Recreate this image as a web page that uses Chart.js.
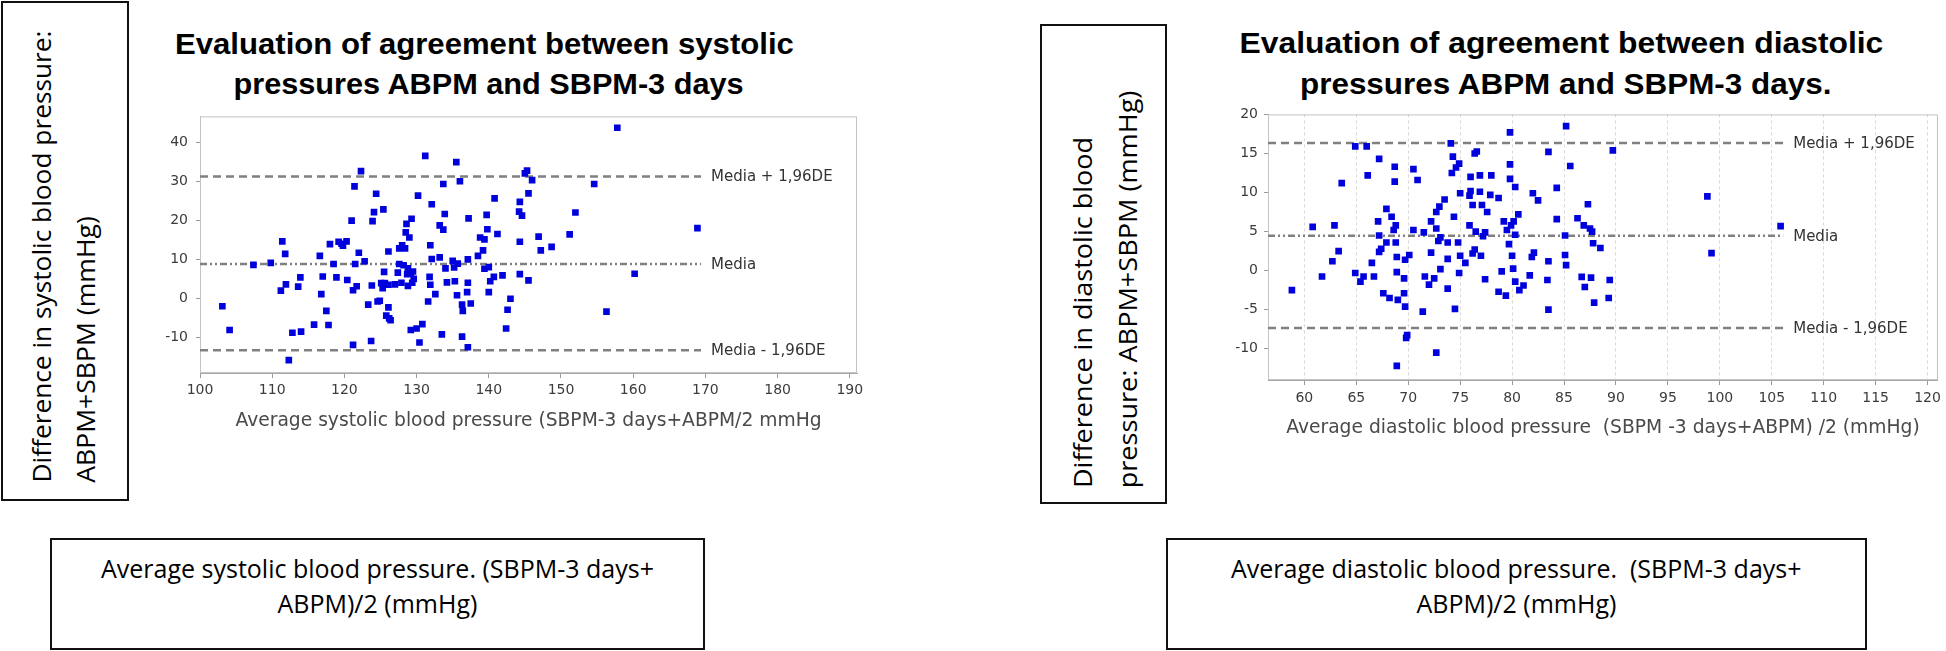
<!DOCTYPE html>
<html><head><meta charset="utf-8">
<script src="https://cdn.jsdelivr.net/npm/chart.js@4.4.1/dist/chart.umd.min.js"></script>
<style>
html,body{margin:0;padding:0;background:#fff;}
body{width:1946px;height:651px;position:relative;overflow:hidden;}
.box{position:absolute;box-sizing:border-box;border:2px solid #111;background:#fff;}
.t{position:absolute;white-space:pre;transform-origin:50% 50%;line-height:1;color:#000;}
.vt{font-family:"Open Sans",sans-serif;font-size:25px;}
.ttl{font-family:"Liberation Sans",Arial,sans-serif;font-weight:bold;font-size:30px;}
.bt{font-family:"Open Sans",sans-serif;font-size:25px;}
canvas{position:absolute;}
</style></head><body>
<div class="box" style="left:1px;top:1px;width:128px;height:500px"></div>
<div class="box" style="left:1040px;top:24px;width:127px;height:480px"></div>
<div class="box" style="left:50px;top:538px;width:655px;height:112px"></div>
<div class="box" style="left:1166px;top:538px;width:701px;height:112px"></div>
<canvas id="sysChart" width="770" height="345" style="left:130px;top:100px"></canvas>
<canvas id="diaChart" width="756" height="345" style="left:1190px;top:100px"></canvas>
<div class="t ttl" id="tl1">Evaluation of agreement between systolic</div>
<div class="t ttl" id="tl2">pressures ABPM and SBPM-3 days</div>
<div class="t ttl" id="tr1">Evaluation of agreement between diastolic</div>
<div class="t ttl" id="tr2">pressures ABPM and SBPM-3 days.</div>
<div class="t vt" id="vl1">Difference in systolic blood pressure:</div>
<div class="t vt" id="vl2">ABPM+SBPM (mmHg)</div>
<div class="t vt" id="vr1">Difference in diastolic blood</div>
<div class="t vt" id="vr2">pressure: ABPM+SBPM (mmHg)</div>
<div class="t bt" id="bl1">Average systolic blood pressure. (SBPM-3 days+</div>
<div class="t bt" id="bl2">ABPM)/2 (mmHg)</div>
<div class="t bt" id="br1">Average diastolic blood pressure.  (SBPM-3 days+</div>
<div class="t bt" id="br2">ABPM)/2 (mmHg)</div>
<script>
// ---------- DATA ----------
const sysMean = [103.1,104.1,107.4,109.8,111.4,111.8,111.2,111.9,112.3,112.8,113.6,113.9,114.0,115.8,116.6,116.8,117.0,117.5,117.8,118.0,
118.5,118.9,119.2,119.6,119.8,120.3,120.4,121.0,121.2,121.2,121.4,121.5,121.7,122.0,122.3,122.8,123.3,123.7,123.8,123.9,
124.1,124.4,124.6,124.9,125.1,125.3,125.4,125.5,125.6,125.8,126.1,126.1,126.2,126.4,126.1,127.0,127.4,127.6,127.6,128.0,
127.9,128.2,128.4,128.5,128.6,128.7,128.8,128.8,129.0,129.2,129.3,129.4,129.6,129.5,129.2,130.0,130.2,130.4,130.8,131.2,
131.6,131.9,131.8,131.9,132.1,132.1,132.6,133.2,133.5,133.2,133.7,133.7,133.9,134.0,134.2,135.0,135.2,135.5,135.3,135.6,
135.7,136.0,136.3,136.3,136.4,137.1,137.1,137.1,137.0,137.2,137.5,138.5,138.8,139.2,139.4,139.4,139.7,139.8,140.0,140.0,
140.2,140.7,140.8,141.2,141.9,142.4,142.6,143.0,144.3,144.2,144.6,144.3,144.3,145.0,145.3,145.5,145.5,146.0,146.9,147.2,
148.7,151.2,152.0,154.6,156.3,157.8,160.2,168.9];
const sysDiff = [-1.9,-8.0,8.7,9.2,14.7,11.5,2.1,3.7,-15.7,-8.7,3.1,5.5,-8.4,-6.6,11.0,1.2,5.7,-3.1,-6.7,14.0,
8.9,5.5,14.6,14.1,13.6,14.7,4.8,20.0,-11.8,2.2,28.8,8.9,3.2,11.8,32.7,9.6,-1.5,-10.8,3.4,19.9,
22.2,26.9,-0.7,-0.5,4.0,2.7,22.9,6.9,4.0,-4.3,-2.2,12.1,-5.0,-5.5,3.6,3.7,6.7,12.9,8.9,13.7,
4.1,8.6,12.9,17.0,19.2,6.3,3.3,7.8,15.7,6.5,20.5,4.1,5.1,7.0,-8.0,-7.6,26.4,-11.2,-6.5,36.6,
-0.7,13.7,5.6,3.6,10.2,24.2,1.2,18.8,-9.1,10.6,29.4,17.7,21.7,7.8,4.2,9.7,8.0,35.0,4.5,0.9,
9.0,30.1,-9.7,-1.5,-3.1,10.1,-12.4,4.1,1.7,20.6,-1.2,11.0,15.7,12.4,15.2,7.7,21.5,17.8,8.1,1.7,
4.5,5.6,25.7,16.6,6.0,-7.6,-2.8,0.0,24.8,22.3,21.3,14.6,6.3,32.1,32.8,27.0,4.7,30.4,15.9,12.4,
13.3,16.5,22.1,29.4,-3.3,43.8,6.4,18.1];
const sysLimits = [31.3, 8.9, -13.2];        // Media + 1,96DE, Media, Media - 1,96DE
const sysLimitEnd = 169.4;
const sysXTicks = [100,110,120,130,140,150,160,170,180,190];
const sysYTicks = [-10,0,10,20,30,40];

const diaMean = [58.8,60.8,61.7,62.7,62.9,63.3,63.6,64.9,64.9,65.4,65.7,66.0,66.1,66.5,66.7,67.1,67.2,67.2,67.2,67.4,
67.6,67.9,67.9,68.2,68.4,68.7,68.7,68.6,68.8,68.8,68.9,68.9,68.9,69.0,69.6,69.6,69.7,69.7,69.8,69.9,
70.1,70.5,70.5,70.9,71.4,71.5,71.6,72.0,72.2,72.2,72.5,72.7,72.7,72.7,72.9,73.0,73.1,73.1,73.5,73.8,
73.8,73.8,74.1,74.2,74.3,74.4,74.5,74.6,74.8,74.9,74.9,75.0,75.0,75.5,75.9,75.9,76.0,76.0,76.2,76.2,
76.4,76.4,76.5,76.6,76.9,76.9,77.0,77.1,77.2,77.4,77.4,77.6,77.9,78.0,78.7,78.7,79.0,79.2,79.4,79.5,
79.7,79.8,79.8,79.8,79.9,80.0,80.1,80.15,80.3,80.3,80.3,80.6,80.7,81.1,81.7,81.9,82.0,82.1,82.5,83.4,
83.5,83.5,83.5,84.3,84.3,85.2,85.1,85.1,85.2,85.6,86.3,87.3,86.9,87.5,87.7,87.8,88.5,86.7,87.6,87.0,
87.9,89.4,89.3,89.7,98.8,99.2,105.85];
const diaDiff = [-2.5,5.6,-0.75,1.2,5.8,2.5,11.2,-0.3,15.9,-1.4,-0.75,15.9,12.2,1.0,-0.75,6.3,14.3,4.5,2.4,2.8,
-2.9,7.9,3.6,-3.5,6.9,13.3,11.4,5.2,5.8,3.6,1.75,-0.2,-12.2,-3.75,-1.0,-2.9,-4.6,1.4,-8.6,-8.25,
2.0,13.0,5.2,11.6,-5.25,4.9,-0.75,-1.8,2.3,6.3,-1.0,5.4,-10.5,7.5,3.8,8.2,0.2,4.25,9.1,3.6,
-2.3,1.5,16.3,12.5,14.6,6.9,-4.9,13.2,3.6,13.7,-0.3,9.9,1.9,1.0,9.6,5.8,12.0,10.2,8.4,2.2,
2.7,15.0,5.0,15.25,12.2,10.1,1.9,8.4,4.4,4.9,-1.1,7.5,9.7,12.2,9.3,-2.7,-0.1,6.3,-3.2,5.2,
3.4,13.6,11.75,17.7,5.8,1.9,0.25,6.3,4.6,-1.4,10.7,7.2,-2.5,-1.9,-0.6,1.75,9.9,2.3,9.0,-1.2,
1.2,15.2,-5.0,10.6,6.6,18.5,4.5,2.0,0.7,13.4,6.7,8.5,5.8,5.4,5.0,3.5,2.9,-0.8,-0.9,-2.1,
-4.1,-1.2,-3.5,15.4,9.5,2.25,5.7];
const diaLimits = [16.35, 4.45, -7.35];
const diaLimitEnd = 106.1;
const diaXTicks = [60,65,70,75,80,85,90,95,100,105,110,115,120];
const diaYTicks = [-10,-5,0,5,10,15,20];

const limitLabels = ['Media + 1,96DE', 'Media', 'Media - 1,96DE'];
const sysXTitle = 'Average systolic blood pressure (SBPM-3 days+ABPM/2 mmHg';
const diaXTitle = 'Average diastolic blood pressure  (SBPM -3 days+ABPM) /2 (mmHg)';

// ---------- CHARTS ----------
const framePlugin = {
  id: 'frame',
  beforeDatasetsDraw(chart, args, opts) {
    const {ctx, chartArea: a} = chart;
    ctx.save();
    ctx.strokeStyle = opts.color; ctx.lineWidth = 1; ctx.setLineDash([]);
    ctx.strokeRect(a.left + 0.5, a.top + 0.5, a.right - a.left - 1, a.bottom - a.top - 1);
    ctx.restore();
  },
  afterDatasetsDraw(chart, args, opts) {
    const {ctx, scales: {x, y}} = chart;
    ctx.save();
    ctx.font = '15px "DejaVu Sans"'; ctx.fillStyle = '#333'; ctx.textBaseline = 'middle'; ctx.textAlign = 'left';
    opts.values.forEach((v, i) => {
      ctx.fillText(opts.labels[i], x.getPixelForValue(opts.end) + 10, y.getPixelForValue(v) + 1);
    });
    ctx.restore();
  }
};

function makeChart(id, o) {
  const tickFont = {family: 'DejaVu Sans', size: 14};
  return new Chart(document.getElementById(id), {
    type: 'scatter',
    data: {datasets: [
      {data: o.xs.map((x, i) => ({x: x, y: o.ys[i]})), pointStyle: 'rect', pointRadius: 4.7, pointHoverRadius: 4.7,
       backgroundColor: '#0000dc', borderColor: '#0000dc', borderWidth: 0, order: 0},
      ...o.limits.map((v, i) => ({type: 'line', data: [{x: o.xMin, y: v}, {x: o.limitEnd, y: v}],
        borderColor: '#808080', borderWidth: 2.5, borderDash: i === 1 ? [7, 3, 2, 3, 2, 3] : [8, 5],
        pointRadius: 0, fill: false, order: 1}))
    ]},
    options: {
      responsive: false, animation: false, devicePixelRatio: 1, events: [],
      layout: {padding: o.pad},
      plugins: {legend: {display: false}, tooltip: {enabled: false},
        frame: {color: '#c4c4c4', values: o.limits, labels: limitLabels, end: o.limitEnd}},
      scales: {
        x: {type: 'linear', min: o.xMin, max: o.xMax,
          afterBuildTicks: s => { s.ticks = o.xTicks.map(v => ({value: v})); },
          afterFit: s => { s.height = 59; },
          ticks: {font: tickFont, color: '#3c3c3c', padding: o.xTickPad, maxRotation: 0, autoSkip: false, callback: v => String(v)},
          grid: {display: true, drawOnChartArea: o.xGrid, color: '#d8d8d8', tickColor: '#999', tickLength: 5, tickBorderDash: []},
          border: {display: true, color: '#a8a8a8', dash: o.xGrid ? [3, 3] : []},
          title: {display: true, text: o.xTitle, font: {family: 'DejaVu Sans', size: 18.7}, color: '#4a4a4a', padding: 0}
        },
        y: {type: 'linear', min: o.yMin, max: o.yMax,
          afterBuildTicks: s => { s.ticks = o.yTicks.map(v => ({value: v})); },
          afterFit: s => { s.width = o.yWidth; },
          ticks: {font: tickFont, color: '#3c3c3c', padding: o.yTickPad, callback: v => String(v)},
          grid: {display: true, drawOnChartArea: false, tickColor: '#999', tickLength: 4},
          border: {display: true, color: '#a8a8a8'}
        }
      }
    },
    plugins: [framePlugin]
  });
}

makeChart('sysChart', {xs: sysMean, ys: sysDiff, limits: sysLimits, limitEnd: sysLimitEnd,
  xMin: 100, xMax: 191, yMin: -19, yMax: 46.7, xTicks: sysXTicks, yTicks: sysYTicks,
  pad: {top: 8, right: 43, bottom: 13, left: 0}, yWidth: 70, xTickPad: 4, yTickPad: 8, xGrid: false, xTitle: sysXTitle});
makeChart('diaChart', {xs: diaMean, ys: diaDiff, limits: diaLimits, limitEnd: diaLimitEnd,
  xMin: 56.5, xMax: 121, yMin: -14, yMax: 20, xTicks: diaXTicks, yTicks: diaYTicks,
  pad: {top: 9, right: 4, bottom: 6, left: 0}, yWidth: 78, xTickPad: 5, yTickPad: 6, xGrid: true, xTitle: diaXTitle});

// ---------- TEXT PLACEMENT ----------
function place(id, cx, cy, width, rot) {
  const el = document.getElementById(id);
  const w = el.offsetWidth, h = el.offsetHeight;
  const s = width ? width / w : 1;
  el.style.left = (cx - w / 2) + 'px';
  el.style.top = (cy - h / 2) + 'px';
  el.style.transform = 'rotate(' + rot + 'deg) scaleX(' + s + ')';
}
place('tl1', 484, 44, 619, 0);
place('tl2', 488, 84, 510, 0);
place('tr1', 1561, 43, 644, 0);
place('tr2', 1565.5, 84, 531, 0);
place('vl1', 42, 256, 452, -90);
place('vl2', 85, 349, 267, -90);
place('vr1', 1082, 312.5, 351, -90);
place('vr2', 1127, 289, 398, -90);
place('bl1', 377.5, 568, null, 0);
place('bl2', 377.5, 603, null, 0);
place('br1', 1516.5, 568, null, 0);
place('br2', 1516.5, 603, null, 0);
</script>
</body></html>
